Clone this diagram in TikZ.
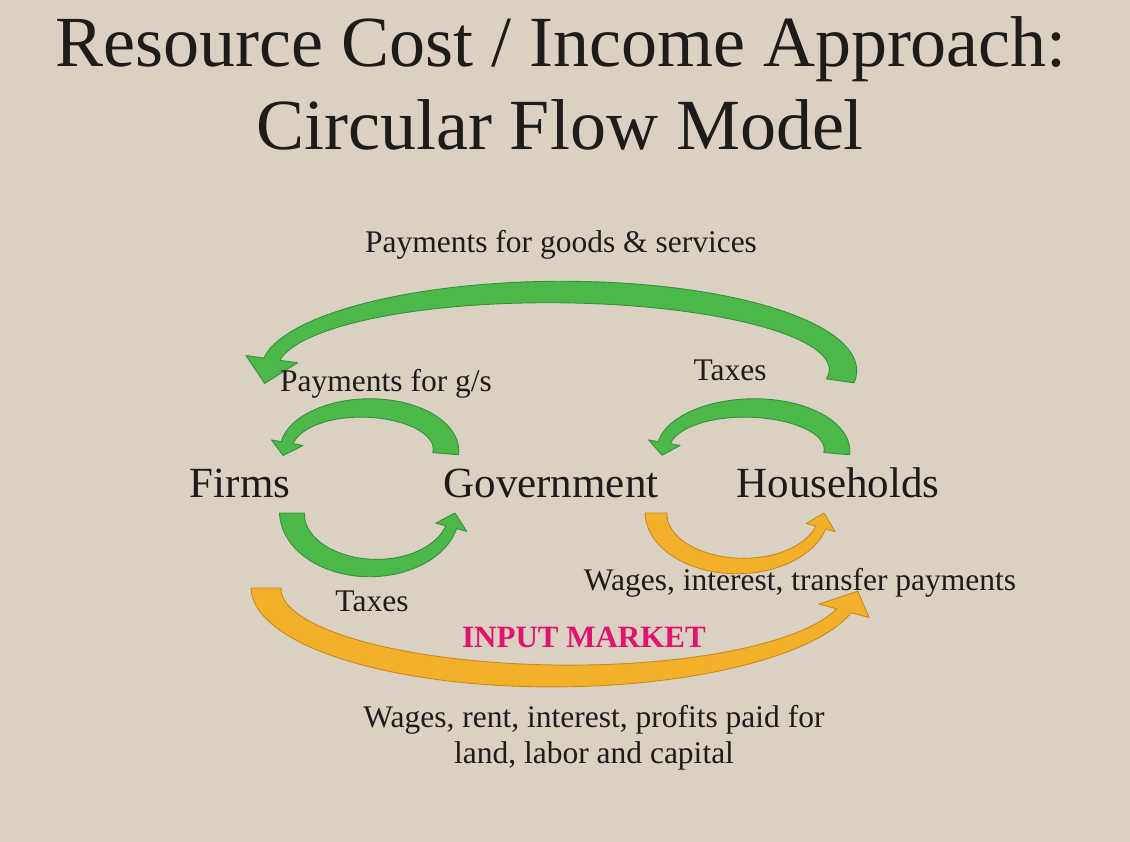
\documentclass[tikz,border=0pt]{standalone}
\usepackage{fontspec}
\setmainfont{Liberation Serif}
\definecolor{bgc}{HTML}{DAD1C2}
\definecolor{grn}{HTML}{4DB84A}
\definecolor{grnd}{HTML}{35913A}
\definecolor{org}{HTML}{F3B12B}
\definecolor{orgd}{HTML}{C98A1C}
\definecolor{mag}{HTML}{E2136F}
\definecolor{ink}{HTML}{1E1C1A}
\tikzset{
  greenarr/.style={fill=grn, draw=grnd, line width=0.9pt, line join=round},
  orangearr/.style={fill=org, draw=orgd, line width=0.9pt, line join=round},
  titletext/.style={inner sep=0pt, anchor=base, text=ink, font=\fontsize{72}{80}\selectfont},
  sectortext/.style={inner sep=0pt, anchor=base, text=ink, font=\fontsize{43}{50}\selectfont},
  labeltext/.style={inner sep=0pt, anchor=base, text=ink, font=\fontsize{31.5}{36}\selectfont},
  markettext/.style={inner sep=0pt, anchor=base, text=mag, font=\fontsize{31}{36}\selectfont\bfseries}
}
% #1 cx, #2 cy, #3 rx, #4 ry, #5 tail angle, #6 head-base angle, #7 tip angle,
% #8 tail width, #9 neck width; \hw head half width, \toff radial offset of tip
\newcommand\flowarrow[9]{%
  \filldraw[\arrst]
    plot[domain=#5:#6, samples=60, variable=\t]
      ({#1+(#3+0.5*(#8+(#9-#8)*(\t-(#5))/((#6)-(#5))))*cos(\t)},
       {#2+(#4+0.5*(#8+(#9-#8)*(\t-(#5))/((#6)-(#5))))*sin(\t)})
    -- ({#1+(#3+\hw)*cos(#6)},{#2+(#4+\hw)*sin(#6)})
    -- ({#1+(#3+\toff)*cos(#7)},{#2+(#4+\toff)*sin(#7)})
    -- ({#1+(#3-\hw)*cos(#6)},{#2+(#4-\hw)*sin(#6)})
    -- plot[domain=#6:#5, samples=60, variable=\t]
      ({#1+(#3-0.5*(#8+(#9-#8)*(\t-(#5))/((#6)-(#5))))*cos(\t)},
       {#2+(#4-0.5*(#8+(#9-#8)*(\t-(#5))/((#6)-(#5))))*sin(\t)})
    -- cycle;}
\begin{document}
\begin{tikzpicture}[x=1pt, y=-1pt]
\useasboundingbox (0,0) rectangle (1130,842);
\fill[bgc] (0,0) rectangle (1130,842);

% green arrows
\def\arrst{greenarr}
\def\hw{26}\def\toff{8}
\flowarrow{556}{370}{287}{78}{8}{-172}{-189}{28}{16}
\def\hw{16}\def\toff{3.5}
\flowarrow{366}{450}{80}{42}{5}{-170}{-187}{26}{12}
\def\hw{16}\def\toff{1.5}
\flowarrow{750}{450}{87}{42}{5}{-170}{-187}{26}{12}
\def\hw{16}\def\toff{1}
\flowarrow{373}{513}{81}{55}{180}{15}{0}{25}{11}
% orange arrows
\def\arrst{orangearr}
\def\hw{15}\def\toff{0}
\flowarrow{740}{513}{84}{53}{180}{16}{0}{22}{10}
\def\hw{26}\def\toff{4}
\flowarrow{560}{588}{294}{88}{180}{15}{2}{30}{15}

% title
\node[titletext] (t1) at (561,67) {Resource Cost / Income Approach:};
\node[titletext] (t2) at (560,150) {Circular Flow Model};

% sectors
\node[sectortext] (firms) at (240,497) {Firms};
\node[sectortext] (gov) at (551,497) {Government};
\node[sectortext] (hh) at (838,497) {Households};

% labels
\node[labeltext] (pgs) at (561,253) {Payments for goods \& services};
\node[labeltext] (pgs2) at (386,391) {Payments for g/s};
\node[labeltext] (tax1) at (730,380) {Taxes};
\node[labeltext] (tax2) at (372,611) {Taxes};
\node[labeltext] (wit) at (800,590) {Wages, interest, transfer payments};
\node[markettext] (im) at (584,647) {INPUT MARKET};
\node[labeltext] (wr1) at (594,727) {Wages, rent, interest, profits paid for};
\node[labeltext] (wr2) at (594,763) {land, labor and capital};
\end{tikzpicture}
\end{document}
